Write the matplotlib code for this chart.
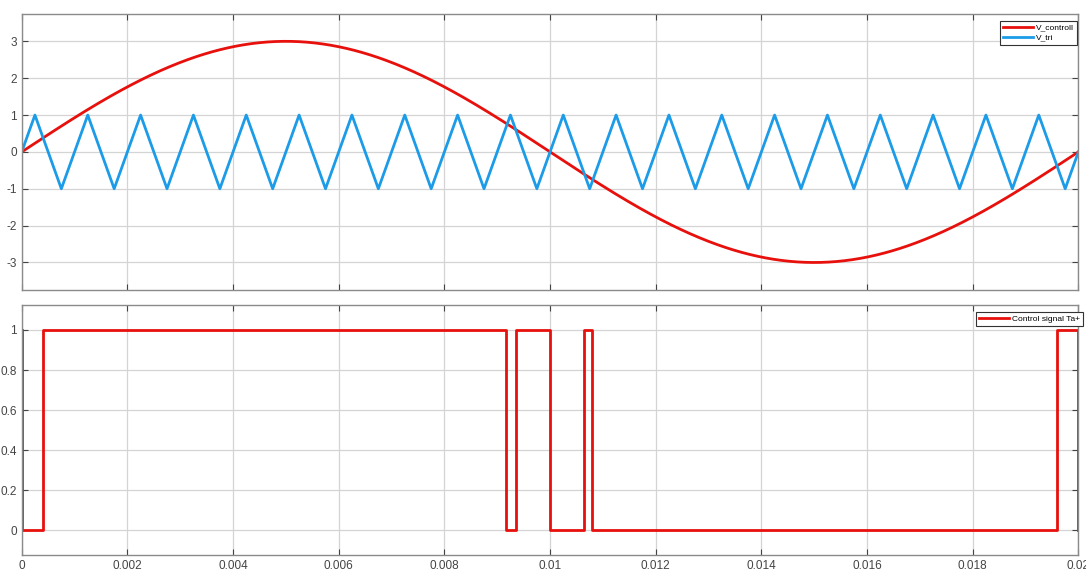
import numpy as np
import matplotlib.pyplot as plt

plt.rcParams['font.family'] = ['Liberation Sans', 'DejaVu Sans']
plt.rcParams['axes.unicode_minus'] = False

# sinusoidal control voltage
v_amp = 3.0
f_ref = 50.0

# carrier triangle (vertex times and levels)
tri_t = [0, 0.00025, 0.00075, 0.00125, 0.00175, 0.00225, 0.00275, 0.00325, 0.00375,
         0.00425, 0.00475, 0.00525, 0.00575, 0.00625, 0.00675, 0.00725, 0.00775,
         0.00825, 0.00875, 0.00925, 0.00975, 0.01025, 0.01075, 0.01125, 0.01175,
         0.01225, 0.01275, 0.01325, 0.01375, 0.01425, 0.01475, 0.01525, 0.01575,
         0.01625, 0.01675, 0.01725, 0.01775, 0.01825, 0.01875, 0.01925, 0.01975, 0.02]
tri_v = [0, 1, -1, 1, -1, 1, -1, 1, -1, 1, -1, 1, -1, 1, -1, 1, -1, 1, -1, 1, -1,
         1, -1, 1, -1, 1, -1, 1, -1, 1, -1, 1, -1, 1, -1, 1, -1, 1, -1, 1, -1, 0]

# gate signal switching instants
ctrl_t = [0, 0, 0.00041, 0.00917, 0.00935, 0.0100, 0.01065, 0.01079, 0.01959, 0.02]
ctrl_v = [1, 0, 1, 0, 1, 0, 1, 0, 1, 0]

x_ticks = [0, 0.002, 0.004, 0.006, 0.008, 0.01, 0.012, 0.014, 0.016, 0.018, 0.02]
x_ticklabels = ['0', '0.002', '0.004', '0.006', '0.008', '0.01', '0.012', '0.014',
                '0.016', '0.018', '0.02']

t = np.linspace(0, 0.02, 801)
v_ctrl = v_amp * np.sin(2 * np.pi * f_ref * t)

red = '#e8100c'
blue = '#1c9ce8'

W, H = 1086, 570
fig = plt.figure(figsize=(W / 100, H / 100), dpi=100)
ax1 = fig.add_axes([0.020, 0.491, 0.973, 0.485])
ax2 = fig.add_axes([0.020, 0.026, 0.973, 0.439])


def style(ax):
    ax.set_xlim(0, 0.02)
    ax.set_xticks(x_ticks)
    ax.grid(True, color='#d4d4d4', linewidth=0.9)
    ax.set_axisbelow(True)
    ax.tick_params(direction='in', length=4, width=0.8, colors='#444444',
                   labelsize=8.5, top=True, right=True)
    for s in ax.spines.values():
        s.set_color('#8a8a8a')
        s.set_linewidth(1.0)


leg_kw = dict(fontsize=6, fancybox=False, framealpha=1, edgecolor='#333333',
              handlelength=3.6, borderpad=0.35, labelspacing=0.25,
              handletextpad=0.4, borderaxespad=0, loc='upper right')

ax1.plot(t, v_ctrl, color=red, linewidth=2, label='V_controll')
ax1.plot(tri_t, tri_v, color=blue, linewidth=2, label='V_tri')
style(ax1)
ax1.set_ylim(-3.75, 3.75)
ax1.set_yticks([-3, -2, -1, 0, 1, 2, 3])
ax1.set_xticklabels([])
leg1 = ax1.legend(bbox_to_anchor=(1077 / W, 1 - 21 / H),
                  bbox_transform=fig.transFigure, **leg_kw)
leg1.get_frame().set_linewidth(0.8)

ax2.plot(ctrl_t, ctrl_v, color=red, linewidth=2, drawstyle='steps-post',
         label='Control signal Ta+')
style(ax2)
ax2.set_ylim(-0.125, 1.125)
ax2.set_yticks([0, 0.2, 0.4, 0.6, 0.8, 1])
ax2.set_yticklabels(['0', '0.2', '0.4', '0.6', '0.8', '1'])
ax2.set_xticklabels(x_ticklabels)
leg2 = ax2.legend(bbox_to_anchor=(1083 / W, 1 - 312 / H),
                  bbox_transform=fig.transFigure, **leg_kw)
leg2.get_frame().set_linewidth(0.8)

fig.savefig('out.png', dpi=100)
